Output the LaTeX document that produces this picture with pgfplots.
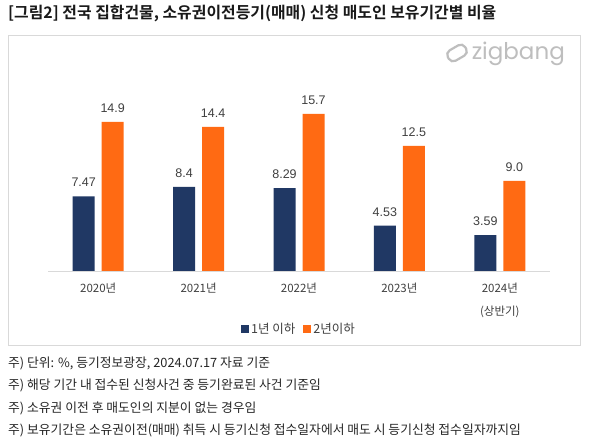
\documentclass[border=0pt]{standalone}
\usepackage{pgfplots}
\pgfplotsset{compat=1.18}
\usepackage{fontspec}
\setmainfont{Liberation Sans}
\newfontfamily\kr{Noto Sans CJK KR}[BoldFont={Noto Sans CJK KR Bold}]
\newfontfamily\logofont{Poppins}
\definecolor{navy}{RGB}{32,56,100}
\definecolor{orng}{RGB}{255,106,19}
\definecolor{boxgray}{RGB}{217,217,217}
\definecolor{txtgray}{RGB}{64,64,64}
\definecolor{logogray}{RGB}{190,190,190}
\begin{document}
\begin{tikzpicture}
\useasboundingbox (0,0) rectangle (602pt,438pt);
\fill[white] (0,0) rectangle (602pt,438pt);
\draw[boxgray, line width=0.8pt] (8pt,93pt) rectangle (580pt,403pt);
\node[anchor=west, inner sep=0pt, text=black!90, font=\kr\bfseries\fontsize{15.9}{18}\selectfont] at (8pt,424.5pt) {[그림2] 전국 집합건물, 소유권이전등기(매매) 신청 매도인 보유기간별 비율};
\node[anchor=east, inner sep=0pt, text=logogray, font=\logofont\fontsize{23}{26}\selectfont] at (565pt,384.5pt) {zigbang};
\draw[logogray, line width=2.2pt, rounded corners=5pt, rotate around={30:(457pt,385pt)}] (447pt,379pt) rectangle (467pt,391pt);
\begin{axis}[
  at={(48pt,167pt)}, anchor=south west,
  scale only axis, width=502pt, height=200pt,
  xmin=-0.5, xmax=4.5, ymin=0, ymax=20,
  ybar=7pt, bar width=22pt,
  axis x line=bottom, axis y line=none,
  x axis line style={-, draw=boxgray, line width=0.8pt},
  xtick={0,1,2,3,4}, xtick style={draw=none},
  xticklabels={2020년,2021년,2022년,2023년,{2024년\\(상반기)}},
  xticklabel style={align=center, font=\kr\fontsize{11.5}{23}\selectfont, text=txtgray, yshift=-6pt},
  ytick=\empty,
  nodes near coords, point meta=explicit symbolic,
  every node near coord/.append style={font=\fontsize{12.5}{14}\selectfont, text=txtgray, yshift=6pt},
  legend style={at={(0.5,-0.29)}, anchor=center, draw=none, fill=none, font=\kr\fontsize{12.5}{14}\selectfont, text=txtgray, /tikz/every even column/.append style={column sep=6pt}},
  legend columns=2,
  legend image code/.code={\fill[#1] (0pt,-4pt) rectangle (8pt,4pt);},
  clip=false,
]
\addplot[fill=navy, draw=none] coordinates {(0,7.47) [7.47] (1,8.4) [8.4] (2,8.29) [8.29] (3,4.53) [4.53] (4,3.59) [3.59]};
\addplot[fill=orng, draw=none] coordinates {(0,14.9) [14.9] (1,14.4) [14.4] (2,15.7) [15.7] (3,12.5) [12.5] (4,9.0) [9.0]};
\legend{1년 이하, 2년이하}
\end{axis}
\begin{scope}[every node/.style={anchor=west, inner sep=0pt, text=black!85, font=\kr\fontsize{12.8}{15}\selectfont}]
\node at (8pt,74.5pt) {주) 단위: \%, 등기정보광장, 2024.07.17 자료 기준};
\node at (8pt,52.5pt) {주) 해당 기간 내 접수된 신청사건 중 등기완료된 사건 기준임};
\node at (8pt,30pt) {주) 소유권 이전 후 매도인의 지분이 없는 경우임};
\node at (8pt,8pt) {주) 보유기간은 소유권이전(매매) 취득 시 등기신청 접수일자에서 매도 시 등기신청 접수일자까지임};
\end{scope}
\end{tikzpicture}
\end{document}
